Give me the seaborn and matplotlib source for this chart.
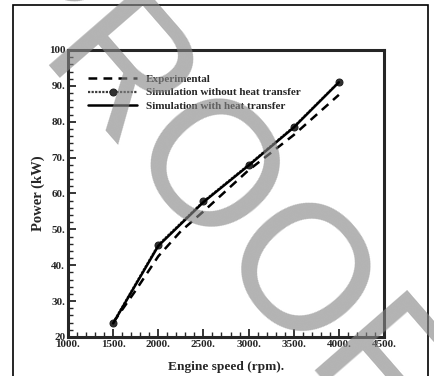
import numpy as np
import pandas as pd
import matplotlib
matplotlib.use("Agg")
import matplotlib.pyplot as plt
from matplotlib.patches import Rectangle
from matplotlib.ticker import MultipleLocator, FixedLocator, FixedFormatter
import seaborn as sns

# data
speed_sim = [1500, 2000, 2500, 3000, 3500, 4000]
power_no_ht = [24.0, 45.7, 57.8, 68.0, 78.6, 91.1]
power_ht = [23.8, 45.4, 57.6, 67.8, 78.4, 91.0]
speed_exp = [1500, 1750, 2000, 2250, 2500, 3000, 3500, 4000]
power_exp = [24.0, 33.0, 42.5, 49.5, 55.0, 66.5, 76.3, 87.5]

x_ticks = [1000, 1500, 2000, 2500, 3000, 3500, 4000, 4500]
x_labels = ["1000.", "1500.", "2000.", "2500.", "3000.", "3500.", "4000.", "4500."]
y_ticks = [20, 30, 40, 50, 60, 70, 80, 90, 100]
y_labels = ["20", "30.", "40.", "50.", "60.", "70.", "80.", "90.", "100"]

sns.set_style("ticks")
plt.rcParams["font.family"] = ["Liberation Serif", "DejaVu Serif"]
plt.rcParams["font.weight"] = "bold"

fig = plt.figure(figsize=(4.35, 3.76), dpi=100)
ax = fig.add_axes([68 / 435, 1 - 337 / 376, 316 / 435, 287 / 376])

sns.lineplot(x=speed_exp, y=power_exp, ax=ax, color="black", lw=1.8,
             linestyle=(0, (3.5, 2.5)), label="Experimental")
sns.lineplot(x=speed_sim, y=power_no_ht, ax=ax, color="#3a3a3a", lw=1.6,
             linestyle=(0, (1, 0.6)), marker="o", markersize=5,
             markeredgecolor="#202020", markerfacecolor="#303030",
             label="Simulation without heat transfer")
sns.lineplot(x=speed_sim, y=power_ht, ax=ax, color="black", lw=1.8,
             label="Simulation with heat transfer")

ax.set_xlim(1000, 4500)
ax.set_ylim(20, 100)
ax.xaxis.set_major_locator(FixedLocator(x_ticks))
ax.xaxis.set_major_formatter(FixedFormatter(x_labels))
ax.yaxis.set_major_locator(FixedLocator(y_ticks))
ax.yaxis.set_major_formatter(FixedFormatter(y_labels))
ax.xaxis.set_minor_locator(MultipleLocator(100))
ax.yaxis.set_minor_locator(MultipleLocator(2))
ax.tick_params(which="major", direction="in", length=6, width=1.3,
               labelsize=8, pad=2)
ax.tick_params(which="minor", direction="in", length=3.5, width=1.0)
for lab in ax.get_xticklabels() + ax.get_yticklabels():
    lab.set_fontweight("bold")
for s in ax.spines.values():
    s.set_linewidth(2.2)
    s.set_visible(True)

ax.set_xlabel("Engine speed (rpm).", fontsize=9.6, fontweight="bold", labelpad=9)
ax.set_ylabel("Power (kW)", fontsize=10.5, fontweight="bold", labelpad=3)

ax.legend(loc="upper left", bbox_to_anchor=(0.05, 0.932), frameon=False,
          handlelength=4.4, handletextpad=0.8, labelspacing=0.35,
          borderaxespad=0, prop={"size": 8, "weight": "bold"})

# outer frame
fig.add_artist(Rectangle((13 / 435, -0.05), 415 / 435, 1.05 - 5 / 376,
                         transform=fig.transFigure, fill=False,
                         edgecolor="black", lw=1.2))

# watermark
fig.text(198 / 435, 1 - 184 / 376, "PROOF", transform=fig.transFigure,
         fontsize=128, family="Liberation Sans", fontweight="normal",
         color="#878787", alpha=0.63, rotation=-49, rotation_mode="anchor",
         ha="center", va="center", zorder=10)

fig.savefig("out.png", dpi=100)
